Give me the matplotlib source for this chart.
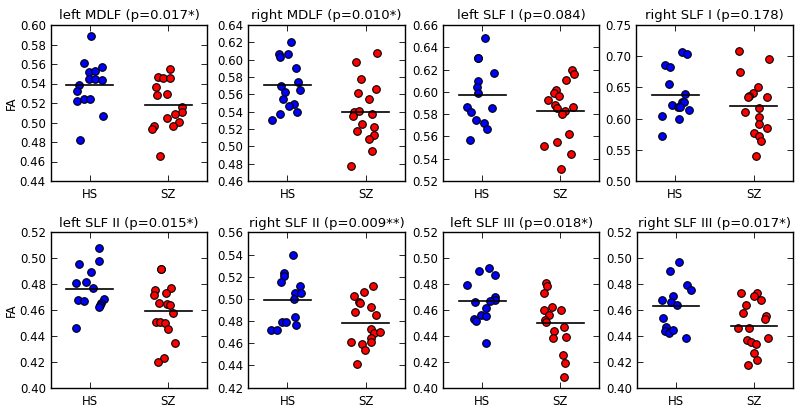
import numpy as np
import matplotlib
matplotlib.use('Agg')
import matplotlib.pyplot as plt

# panel titles and y ranges
titles = ['left MDLF (p=0.017*)', 'right MDLF (p=0.010*)', 'left SLF I (p=0.084)',
          'right SLF I (p=0.178)', 'left SLF II (p=0.015*)', 'right SLF II (p=0.009**)',
          'left SLF III (p=0.018*)', 'right SLF III (p=0.017*)']
groups = ['HS', 'SZ']

# FA values, with the horizontal jitter of each dot
hs_mdlf_l = [0.589, 0.5607, 0.5573, 0.552, 0.5528, 0.545, 0.5443, 0.5432, 0.538, 0.5323,
             0.5224, 0.524, 0.524, 0.507, 0.482]
hs_mdlf_l_dx = [0.02, -0.08, 0.16, -0.01, 0.06, -0.006, 0.066, 0.15, -0.14, -0.16,
                -0.16, -0.07, 0.0, 0.17, -0.12]
sz_mdlf_l = [0.5545, 0.5467, 0.546, 0.546, 0.5367, 0.5285, 0.5292, 0.5162, 0.5107, 0.509,
             0.5042, 0.5005, 0.4967, 0.4967, 0.493, 0.466]
sz_mdlf_l_dx = [0.028, -0.126, -0.066, 0.023, -0.15, -0.14, -0.01, 0.17, 0.18, 0.087,
                -0.015, 0.134, 0.057, -0.18, -0.21, -0.11]

hs_mdlf_r = [0.62, 0.6065, 0.6035, 0.6065, 0.5908, 0.5742, 0.5696, 0.5654, 0.5627, 0.5542,
             0.5485, 0.5465, 0.5373, 0.5392, 0.5304]
hs_mdlf_r_dx = [0.04, -0.11, -0.1, 0.006, 0.11, 0.13, -0.08, 0.16, -0.03, -0.06,
                0.08, 0.02, -0.09, 0.126, -0.2]
sz_mdlf_r = [0.6081, 0.5977, 0.5777, 0.5615, 0.5658, 0.5542, 0.54, 0.5412, 0.535, 0.5377,
             0.5262, 0.5227, 0.5173, 0.5131, 0.5085, 0.495, 0.4777]
sz_mdlf_r_dx = [0.14, -0.13, -0.06, -0.1, 0.13, 0.036, -0.15, -0.09, -0.16, 0.083,
                -0.05, 0.104, -0.11, 0.104, 0.036, 0.08, -0.19]

hs_slf1_l = [0.6486, 0.6301, 0.6307, 0.617, 0.6098, 0.6047, 0.599, 0.5864, 0.5852, 0.5819,
             0.5751, 0.5718, 0.567, 0.5568]
hs_slf1_l_dx = [0.036, -0.057, -0.05, 0.151, -0.06, -0.066, -0.053, -0.19, 0.13, -0.147,
                -0.08, 0.023, 0.06, -0.16]
sz_slf1_l = [0.6193, 0.616, 0.611, 0.6017, 0.5987, 0.596, 0.5924, 0.5885, 0.5858, 0.5864,
             0.5829, 0.5805, 0.5622, 0.5553, 0.5512, 0.544, 0.5308]
sz_slf1_l_dx = [0.15, 0.17, 0.074, -0.053, -0.079, -0.015, -0.16, -0.07, -0.036, 0.16,
                0.062, 0.023, 0.117, -0.04, -0.21, 0.14, 0.006]

hs_slf1_r = [0.7073, 0.7035, 0.6854, 0.6822, 0.655, 0.64, 0.6218, 0.6192, 0.6261, 0.6261,
             0.6181, 0.6138, 0.6042, 0.5994, 0.5727]
hs_slf1_r_dx = [0.083, 0.155, -0.134, -0.07, -0.079, 0.13, -0.036, 0.036, 0.083, 0.11,
                0.057, 0.18, -0.168, 0.045, -0.17]
sz_slf1_r = [0.7089, 0.696, 0.6747, 0.65, 0.6416, 0.6357, 0.6347, 0.6341, 0.6176, 0.6112,
             0.6021, 0.5914, 0.5855, 0.5775, 0.5722, 0.5647, 0.5407]
sz_slf1_r_dx = [-0.18, 0.2, -0.177, 0.06, -0.002, -0.062, 0.168, -0.074, 0.066, -0.113,
                0.066, 0.07, 0.17, 0.01, 0.07, 0.1, 0.028]

hs_slf2_l = [0.5076, 0.4976, 0.4958, 0.4891, 0.4816, 0.4806, 0.477, 0.468, 0.4672, 0.4685,
             0.4657, 0.4636, 0.4621, 0.4464]
hs_slf2_l_dx = [0.117, 0.113, -0.142, 0.02, -0.045, -0.18, 0.036, -0.147, -0.074, 0.185,
                0.143, 0.13, 0.117, -0.18]
sz_slf2_l = [0.4914, 0.4919, 0.477, 0.4755, 0.4718, 0.4731, 0.4652, 0.4644, 0.4641, 0.4577,
             0.4507, 0.4507, 0.4497, 0.4456, 0.4345, 0.4227, 0.4201]
sz_slf2_l_dx = [-0.096, -0.09, 0.036, -0.164, -0.177, -0.032, -0.113, -0.02, 0.028, 0.066,
                -0.16, -0.1, -0.045, 0.002, 0.083, -0.049, -0.134]

hs_slf2_r = [0.5399, 0.5237, 0.521, 0.5152, 0.5116, 0.505, 0.505, 0.4996, 0.4837, 0.4789,
             0.4789, 0.4765, 0.4717, 0.472]
hs_slf2_r_dx = [0.074, -0.05, -0.05, -0.087, 0.155, 0.096, 0.177, 0.087, 0.09, -0.066,
                -0.023, 0.113, -0.21, -0.13]
sz_slf2_r = [0.5116, 0.5065, 0.5023, 0.4975, 0.4966, 0.4924, 0.4882, 0.4855, 0.4729, 0.469,
             0.4699, 0.4651, 0.4615, 0.4615, 0.4597, 0.454, 0.4413]
sz_slf2_r_dx = [0.09, -0.028, -0.155, -0.09, -0.07, 0.07, -0.143, 0.134, 0.062, 0.104,
                0.18, 0.07, 0.07, -0.19, -0.054, -0.015, -0.113]

hs_slf3_l = [0.4924, 0.4904, 0.4873, 0.4791, 0.47, 0.468, 0.467, 0.4664, 0.4613, 0.4561,
             0.4554, 0.4528, 0.4518, 0.4348]
hs_slf3_l_dx = [0.083, -0.04, 0.164, -0.194, 0.164, 0.164, 0.096, -0.096, 0.045, -0.02,
                0.049, -0.109, -0.083, 0.045]
sz_slf3_l = [0.4806, 0.4788, 0.4729, 0.4623, 0.4597, 0.46, 0.4559, 0.4523, 0.4505, 0.4471,
             0.4438, 0.4386, 0.4389, 0.4252, 0.4193, 0.4082]
sz_slf3_l_dx = [-0.18, -0.168, -0.21, -0.104, -0.21, 0.01, -0.147, -0.19, -0.185, 0.045,
                -0.087, -0.09, 0.079, 0.04, 0.057, 0.049]

hs_slf3_r = [0.4973, 0.4901, 0.4791, 0.4757, 0.468, 0.4708, 0.4659, 0.4639, 0.4536, 0.4469,
             0.4438, 0.4422, 0.4446, 0.4384]
hs_slf3_r_dx = [0.032, -0.074, 0.138, 0.194, -0.185, -0.04, -0.07, 0.011, -0.168, -0.126,
                -0.147, -0.091, -0.036, 0.126]
sz_slf3_r = [0.4731, 0.4729, 0.4711, 0.4677, 0.4636, 0.4574, 0.4554, 0.4528, 0.4458, 0.4463,
             0.438, 0.4366, 0.4356, 0.4335, 0.4265, 0.4211, 0.4172]
sz_slf3_r_dx = [-0.164, 0.04, 0.002, 0.091, -0.096, -0.138, 0.15, 0.138, -0.198, -0.062,
                0.185, -0.091, -0.036, 0.023, 0.002, 0.045, -0.074]

hs_all = [hs_mdlf_l, hs_mdlf_r, hs_slf1_l, hs_slf1_r, hs_slf2_l, hs_slf2_r, hs_slf3_l, hs_slf3_r]
hs_all_dx = [hs_mdlf_l_dx, hs_mdlf_r_dx, hs_slf1_l_dx, hs_slf1_r_dx,
             hs_slf2_l_dx, hs_slf2_r_dx, hs_slf3_l_dx, hs_slf3_r_dx]
sz_all = [sz_mdlf_l, sz_mdlf_r, sz_slf1_l, sz_slf1_r, sz_slf2_l, sz_slf2_r, sz_slf3_l, sz_slf3_r]
sz_all_dx = [sz_mdlf_l_dx, sz_mdlf_r_dx, sz_slf1_l_dx, sz_slf1_r_dx,
             sz_slf2_l_dx, sz_slf2_r_dx, sz_slf3_l_dx, sz_slf3_r_dx]

# y axis range and tick step of each panel
y_lo = [0.44, 0.46, 0.52, 0.50, 0.40, 0.42, 0.40, 0.40]
y_hi = [0.60, 0.64, 0.66, 0.75, 0.52, 0.56, 0.52, 0.52]
y_step = [0.02, 0.02, 0.02, 0.05, 0.02, 0.02, 0.02, 0.02]

W, H = 800., 409.
fig = plt.figure(figsize=(8, 4.09), dpi=100)
fig.patch.set_facecolor('white')

# axes boxes in pixels
lefts = [50.7, 248.3, 443.3, 636.0, 50.7, 248.3, 443.3, 637.3]
rights = [207.4, 405.0, 599.3, 792.7, 207.4, 405.0, 599.3, 792.7]
tops = [25.0] * 4 + [232.3] * 4
bottoms = [181.0] * 4 + [387.7] * 4

for i in range(8):
    ax = fig.add_axes([lefts[i] / W, 1 - bottoms[i] / H,
                       (rights[i] - lefts[i]) / W, (bottoms[i] - tops[i]) / H])
    hs = np.array(hs_all[i])
    sz = np.array(sz_all[i])
    ax.scatter(1 + np.array(hs_all_dx[i]), hs, s=30, c='b', edgecolors='k',
               linewidths=0.8, zorder=2)
    ax.scatter(2 + np.array(sz_all_dx[i]), sz, s=30, c='r', edgecolors='k',
               linewidths=0.8, zorder=2)
    # group means
    ax.plot([0.7, 1.3], [hs.mean()] * 2, color='k', lw=1.2, zorder=3)
    ax.plot([1.7, 2.3], [sz.mean()] * 2, color='k', lw=1.2, zorder=3)

    ax.set_xlim(0.5, 2.5)
    ax.set_ylim(y_lo[i], y_hi[i])
    ax.set_xticks([1, 2])
    ax.set_xticklabels(groups)
    ax.set_yticks(np.arange(y_lo[i], y_hi[i] + 1e-9, y_step[i]))
    ax.yaxis.set_major_formatter(matplotlib.ticker.FormatStrFormatter('%.2f'))
    ax.tick_params(direction='in', top=True, right=True, labelsize=8.5, length=4, width=0.6)
    ax.tick_params(axis='x', pad=5)
    for sp in ax.spines.values():
        sp.set_linewidth(1.0)
    ax.set_title(titles[i], fontsize=9.5, pad=4)
    if i % 4 == 0:
        ax.set_ylabel('FA', fontsize=8.5, labelpad=1)

fig.savefig('out.png', dpi=100, facecolor='white')
